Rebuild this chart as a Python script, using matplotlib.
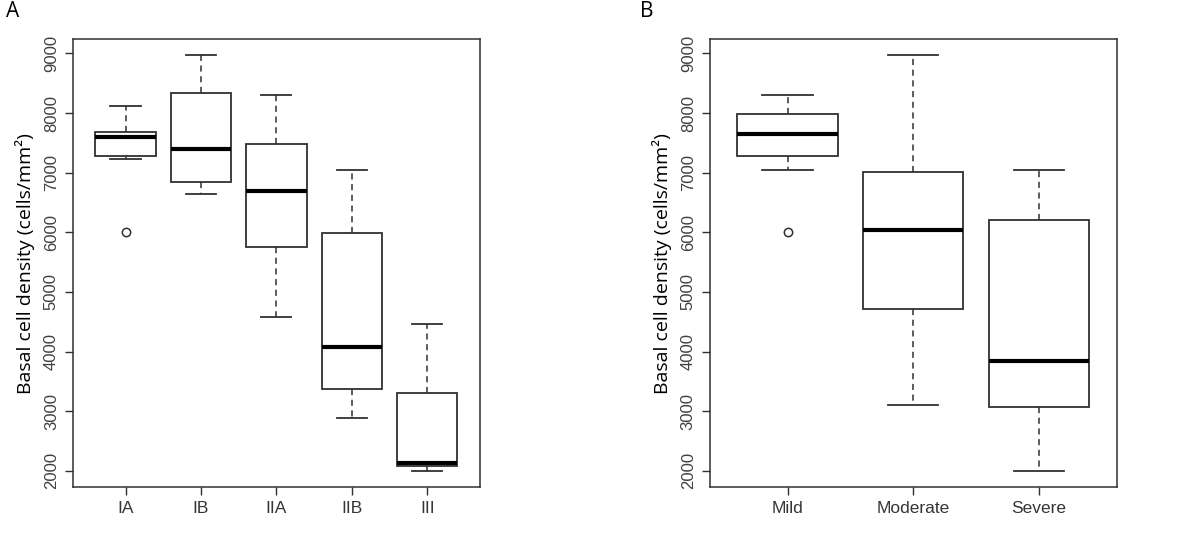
import matplotlib.pyplot as plt

# panel A: stage groups
stage_labels = ["IA", "IB", "IIA", "IIB", "III"]
stage_whislo = [7230, 6650, 4580, 2880, 2000]
stage_q1 = [7275, 6850, 5750, 3375, 2080]
stage_med = [7600, 7400, 6690, 4080, 2130]
stage_q3 = [7690, 8345, 7485, 5985, 3300]
stage_whishi = [8125, 8970, 8310, 7050, 4470]
stage_fliers = [[6005], [], [], [], []]

# panel B: severity groups
sev_labels = ["Mild", "Moderate", "Severe"]
sev_whislo = [7050, 3095, 2000]
sev_q1 = [7275, 4710, 3070]
sev_med = [7650, 6045, 3835]
sev_q3 = [7980, 7015, 6205]
sev_whishi = [8310, 8970, 7050]
sev_fliers = [[6005], [], []]

edge = "#303030"


def panel(ax, labels, lo, q1, med, q3, hi, fl, letter):
    stats = []
    for i in range(len(labels)):
        stats.append({"label": labels[i], "whislo": lo[i], "q1": q1[i], "med": med[i],
                      "q3": q3[i], "whishi": hi[i], "fliers": fl[i]})
    ax.bxp(stats, positions=range(1, len(labels) + 1), widths=0.8,
           patch_artist=True,
           boxprops=dict(facecolor="white", edgecolor=edge, linewidth=1.3),
           medianprops=dict(color="black", linewidth=3, solid_capstyle="butt"),
           whiskerprops=dict(color=edge, linewidth=1.1, linestyle=(0, (4, 3))),
           capprops=dict(color=edge, linewidth=1.3),
           capwidths=0.4,
           flierprops=dict(marker="o", markersize=6, markerfacecolor="white",
                           markeredgecolor=edge, markeredgewidth=1.1))
    n = len(labels)
    ext = n * 0.04
    ax.set_xlim(0.5 - ext, n + 0.5 + ext)
    ax.set_ylim(1722, 9238)
    ax.set_yticks([2000, 3000, 4000, 5000, 6000, 7000, 8000, 9000])
    ax.set_yticklabels(["2000", "3000", "4000", "5000", "6000", "7000", "8000", "9000"],
                       rotation=90, va="center", fontsize=12, color="#404040",
                       family="Liberation Sans")
    ax.set_xticks(range(1, n + 1))
    ax.set_xticklabels(labels, fontsize=12.5, color="#353535", family="Liberation Sans")
    ax.tick_params(axis="both", length=6, width=1, color=edge, pad=4)
    for s in ax.spines.values():
        s.set_color(edge)
        s.set_linewidth(1.1)
    ax.set_ylabel("Basal cell density (cells/mm²)", fontsize=14, family="Open Sans",
                  labelpad=6)
    ax.text(-0.165 if n == 5 else -0.17, 1.085, letter, transform=ax.transAxes,
            fontsize=15, family="Open Sans", va="top", ha="left")


fig = plt.figure(figsize=(12, 5.46), dpi=100)
axA = fig.add_axes([0.0606, 0.1075, 0.3394, 0.8205])
axB = fig.add_axes([0.5914, 0.1075, 0.3392, 0.8205])
panel(axA, stage_labels, stage_whislo, stage_q1, stage_med, stage_q3, stage_whishi, stage_fliers, "A")
panel(axB, sev_labels, sev_whislo, sev_q1, sev_med, sev_q3, sev_whishi, sev_fliers, "B")

fig.savefig("out.png", dpi=100)
